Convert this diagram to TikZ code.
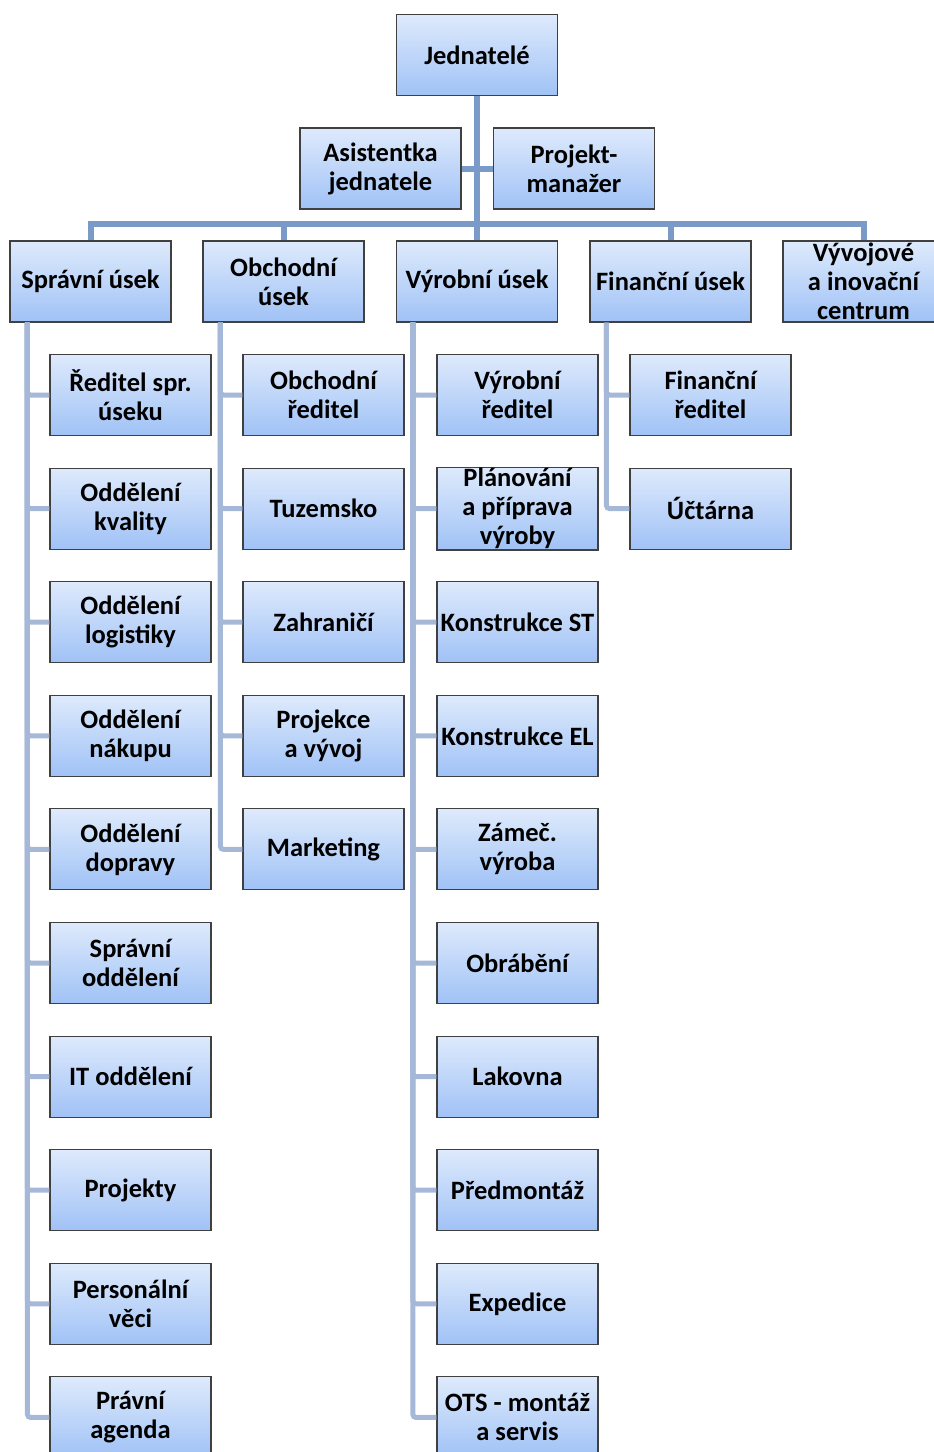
\documentclass[tikz,border=0pt]{standalone}
\usepackage{fontspec}
\setmainfont{Carlito}
\definecolor{boxtop}{RGB}{222,234,252}
\definecolor{boxbot}{RGB}{160,194,246}
\definecolor{boxline}{RGB}{64,64,64}
\definecolor{busline}{RGB}{122,155,200}
\definecolor{subline}{RGB}{166,184,216}
\tikzset{
  unit/.style={draw=boxline, line width=1.1pt, top color=boxtop, bottom color=boxbot,
    minimum width=161pt, minimum height=81pt, inner sep=1pt, align=center,
    font=\fontsize{26.5}{29}\selectfont\bfseries},
  bus/.style={draw=busline, line width=6pt},
  sub/.style={draw=subline, line width=5pt, rounded corners=3pt}
}
\begin{document}
\begin{tikzpicture}[x=1pt,y=-1pt]
    \useasboundingbox (0,0) rectangle (934,1452);
    % vedeni
    \node[unit] (jed) at (477,55) {Jednatelé};
    \node[unit] (asi) at (380.5,168.5) {Asistentka\\jednatele};
    \node[unit] (pro) at (574,168.5) {Projekt-\\manažer};
    % useky
    \node[unit] (spr) at (90.5,281.5) {Správní úsek};
    \node[unit] (obc) at (283.5,281.5) {Obchodní\\úsek};
    \node[unit] (vyr) at (477,281.5) {Výrobní úsek};
    \node[unit] (fin) at (670.5,281.5) {Finanční úsek};
    \node[unit] (vyv) at (863.5,281.5) {Vývojové\\a inovační\\centrum};
    % spojnice nahore
    \coordinate (bus) at ([yshift=16pt]spr.north);
    \draw[bus] (jed.south) -- (vyr.north);
    \draw[bus] (asi.east) -- (pro.west);
    \draw[bus] (spr.north) -- (bus) -| (vyv.north);
    \foreach \n in {obc,fin}
        \draw[bus] (\n.north) -- (\n.north |- bus);
    % spravni usek
    \foreach \t [count=\i] in {{Ředitel spr.\\úseku},{Oddělení\\kvality},{Oddělení\\logistiky},
        {Oddělení\\nákupu},{Oddělení\\dopravy},{Správní\\oddělení},{IT oddělení},
        {Projekty},{Personální\\věci},{Právní\\agenda}}{
        \node[unit] (s\i) at (130.5,{395+(\i-1)*113.6}) {\t};
        \draw[sub] ([xshift=18pt]spr.south west) |- (s\i.west);
    }
    % obchodni usek
    \foreach \t [count=\i] in {{Obchodní\\ředitel},{Tuzemsko},{Zahraničí},
        {Projekce\\a vývoj},{Marketing}}{
        \node[unit] (o\i) at (323.5,{395+(\i-1)*113.6}) {\t};
        \draw[sub] ([xshift=18pt]obc.south west) |- (o\i.west);
    }
    % vyrobni usek
    \foreach \t [count=\i] in {{Výrobní\\ředitel},{Plánování\\a příprava\\výroby},
        {Konstrukce ST},{Konstrukce EL},{Zámeč.\\výroba},{Obrábění},{Lakovna},
        {Předmontáž},{Expedice},{OTS - montáž\\a servis}}{
        \node[unit] (v\i) at (517.5,{395+(\i-1)*113.6}) {\t};
        \draw[sub] ([xshift=17pt]vyr.south west) |- (v\i.west);
    }
    % financni usek
    \foreach \t [count=\i] in {{Finanční\\ředitel},{Účtárna}}{
        \node[unit] (f\i) at (710.5,{395+(\i-1)*113.6}) {\t};
        \draw[sub] ([xshift=17pt]fin.south west) |- (f\i.west);
    }
\end{tikzpicture}
\end{document}
